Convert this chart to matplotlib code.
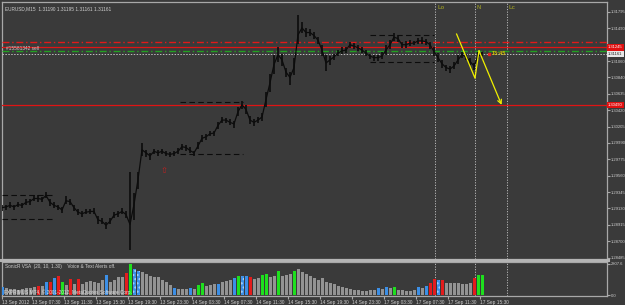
import numpy as np
import matplotlib
matplotlib.use('Agg')
import matplotlib.pyplot as plt
from matplotlib.transforms import blended_transform_factory as btf
from matplotlib.lines import Line2D

plt.rcParams['font.family'] = ['Liberation Sans Narrow', 'Liberation Sans', 'DejaVu Sans']

# ---------------- data ----------------
close = [1.2914, 1.2915, 1.2917, 1.2915, 1.2918, 1.2917, 1.2921, 1.2922, 1.2926, 1.2926,
         1.2925, 1.2930, 1.2921, 1.2917, 1.2915, 1.2911, 1.2923, 1.2922, 1.2914, 1.2908,
         1.2906, 1.2908, 1.2909, 1.2909, 1.2898, 1.2896, 1.2891, 1.2896, 1.2904, 1.2906,
         1.2909, 1.2905, 1.2892, 1.2918, 1.2951, 1.2990, 1.2986, 1.2982, 1.2988, 1.2986,
         1.2988, 1.2985, 1.2984, 1.2985, 1.2988, 1.2994, 1.2993, 1.2989, 1.2986, 1.2995,
         1.3005, 1.3007, 1.3011, 1.3012, 1.3022, 1.3029, 1.3029, 1.3026, 1.3024, 1.3040,
         1.3049, 1.3043, 1.3029, 1.3026, 1.3029, 1.3033, 1.3056, 1.3078, 1.3102, 1.3115,
         1.3108, 1.3092, 1.3085, 1.3098, 1.3141, 1.3150, 1.3144, 1.3144, 1.3140, 1.3134,
         1.3121, 1.3104, 1.3108, 1.3112, 1.3117, 1.3120, 1.3121, 1.3128, 1.3126, 1.3124,
         1.3121, 1.3117, 1.3113, 1.3111, 1.3111, 1.3113, 1.3121, 1.3128, 1.3138, 1.3136,
         1.3128, 1.3128, 1.3130, 1.3130, 1.3133, 1.3133, 1.3132, 1.3128, 1.3119, 1.3111,
         1.3103, 1.3098, 1.3096, 1.3100, 1.3108, 1.3115, 1.3112, 1.3106, 1.3100, 1.3113,
         1.3116]
hi_pips = [4, 3, 4, 3, 4, 3, 4, 3, 5, 4,
           3, 4, 5, 4, 3, 4, 6, 4, 3, 4,
           3, 4, 3, 4, 5, 4, 4, 5, 4, 3,
           4, 5, 69, 15, 10, 9, 4, 4, 3, 4,
           3, 4, 3, 3, 4, 4, 3, 4, 3, 5,
           5, 4, 4, 3, 5, 4, 3, 4, 4, 6,
           5, 6, 5, 4, 4, 5, 10, 12, 12, 10,
           8, 6, 7, 12, 26, 8, 6, 5, 5, 4,
           6, 10, 5, 4, 4, 5, 4, 4, 4, 3,
           4, 4, 3, 4, 4, 5, 6, 6, 5, 4,
           4, 5, 4, 3, 4, 5, 4, 4, 6, 6,
           5, 4, 4, 5, 6, 4, 4, 5, 4, 6,
           3]
lo_pips = [4, 4, 3, 4, 3, 4, 3, 4, 3, 4,
           4, 3, 5, 4, 4, 4, 4, 5, 4, 4,
           4, 3, 4, 3, 5, 4, 5, 4, 3, 4,
           4, 5, 33, 20, 12, 8, 5, 5, 4, 4,
           4, 3, 4, 3, 4, 4, 4, 3, 4, 4,
           5, 4, 3, 4, 5, 4, 4, 4, 5, 6,
           6, 6, 5, 5, 4, 5, 10, 12, 12, 10,
           8, 7, 10, 10, 12, 6, 6, 5, 5, 5,
           8, 10, 6, 4, 4, 4, 4, 4, 4, 4,
           4, 4, 4, 4, 5, 4, 6, 6, 5, 4,
           4, 4, 4, 3, 4, 4, 4, 5, 6, 6,
           6, 5, 5, 4, 5, 4, 4, 4, 5, 4,
           3]
volume = [730, 670, 585, 530, 500, 555, 615, 670, 700, 790,
          790, 1170, 1170, 1550, 1755, 1170, 880, 1460, 1025, 1460,
          1025, 1170, 1230, 1170, 1085, 1315, 1840, 1170, 1375, 1610,
          1665, 1990, 2807, 2340, 2195, 2105, 1900, 1755, 1665, 1610,
          1375, 1170, 880, 670, 585, 530, 585, 670, 585, 880,
          1085, 790, 880, 965, 1025, 1170, 1230, 1375, 1550, 1700,
          1725, 1755, 1665, 1460, 1520, 1840, 1900, 1610, 1755, 2135,
          1755, 1840, 1900, 2135, 2340, 2060, 1885, 1710, 1535, 1360,
          1535, 1225, 1050, 965, 830, 700, 615, 545, 480, 455,
          420, 395, 455, 480, 615, 545, 700, 615, 745, 500,
          455, 420, 395, 455, 745, 615, 810, 1120, 1420, 1330,
          1330, 1120, 1120, 1090, 1050, 1020, 965, 1120, 1510, 1800,
          1770]
vol_class = ("bggggggggr" "gbrbrGgrgr" "ggggggbggg" "grGddggggg" "gggbgggbgG"
             "GgggbgggbG" "dbrggGGggG" "gggGgggggg" "gggggggggg" "ggggbgbgGg"
             "ggggbgbrrd" "rgggggggrG" "G")

time_labels = ["13 Sep 2012", "13 Sep 07:30", "13 Sep 11:30", "13 Sep 15:30",
               "13 Sep 19:30", "13 Sep 23:30", "14 Sep 03:30", "14 Sep 07:30",
               "14 Sep 11:30", "14 Sep 15:30", "14 Sep 19:30", "14 Sep 23:30",
               "17 Sep 03:30", "17 Sep 07:30", "17 Sep 11:30", "17 Sep 15:30"]
tick_bars = [0, 15, 31, 47, 63, 79, 95, 111, 127, 143, 159, 175, 191, 207, 223, 239]

# the 1.31280 label is hidden behind the red order-price box in the reference
price_ticks = [1.28485, 1.28700, 1.28915, 1.29130, 1.29345, 1.29560, 1.29775, 1.29990,
               1.30205, 1.30420, 1.30635, 1.30850, 1.31065, 1.31495, 1.31710]
price_tick_labels = ["1.28485", "1.28700", "1.28915", "1.29130", "1.29345", "1.29560",
                     "1.29775", "1.29990", "1.30205", "1.30420", "1.30635", "1.30840",
                     "1.31060", "1.31490", "1.31795"]

event_bars = [216.5, 236.25, 252.25]
event_names = ["Lo", "N", "Lc"]

boxes = [(0, 26, 1.28996, 1.29311), (89, 120.5, 1.29845, 1.30534), (184, 216, 1.31051, 1.31409)]

level_sl = 1.3131      # red dash-dot
level_open = 1.31245   # red solid
level_tp = 1.3120      # green dash-dot
level_bid = 1.31161    # white dotted
level_low = 1.3049     # red solid lower

zig_t = [227.3, 236.5, 238.5, 249.8]
zig_p = [1.3142, 1.3084, 1.3120, 1.3049]

vol_max_label = 2807.6

# ---------------- figure ----------------
W, H = 625, 305
fig = plt.figure(figsize=(W / 100, H / 100), dpi=100)
bg = '#3a3a3a'
fig.patch.set_facecolor(bg)


def rect(l, t, r, b):
    return [l / W, 1 - b / H, (r - l) / W, (b - t) / H]


ax = fig.add_axes(rect(2, 2, 607, 258.5))
axv = fig.add_axes(rect(2, 261.5, 607, 296))
txtc = '#cfcfcf'
fs = 3.4
fsr = 3.0

for a in (ax, axv):
    a.set_facecolor(bg)
    for s in a.spines.values():
        s.set_color('#a8a8a8')
        s.set_linewidth(0.9)
    a.set_xlim(0, 302.5)

# price bars
t = np.arange(len(close)) * 2
c = np.array(close)
hi = c + np.array(hi_pips) * 1e-4
lo = c - np.array(lo_pips) * 1e-4
ax.vlines(t, lo, hi, color='#0c0c0c', lw=1.2, zorder=4)
ax.plot(t, c, color='#0c0c0c', lw=0.9, zorder=4)

ax.set_ylim(1.28472, 1.31841)

# levels
ax.axhline(level_sl, color='#e01a1a', lw=1.0, ls=(0, (5, 2, 1, 2)), zorder=3)
ax.axhline(level_open, color='#e01414', lw=0.9, zorder=3)
ax.axhline(level_tp, color='#22a022', lw=1.0, ls=(0, (5, 2, 1, 2)), zorder=3)
ax.axhline(level_bid, color='#c0c0c0', lw=0.7, ls=(0, (1.5, 1.5)), zorder=3)
ax.axhline(level_low, color='#e01414', lw=0.9, zorder=3)

# range boxes
for (t0, t1, p0, p1) in boxes:
    ax.hlines([p0, p1], t0, t1, color='#0c0c0c', lw=0.8, ls=(0, (5, 3)), zorder=3)

# event lines
for a in (ax, axv):
    for eb in event_bars:
        a.axvline(eb, color='#b8b8b8', lw=0.7, ls=(0, (1.2, 1.5)), zorder=2)
for eb, nm in zip(event_bars, event_names):
    ax.text(eb + 1.2, 1.3177, nm, color='#8c8c28', fontsize=4.2, va='center', ha='left',
            fontweight='bold')

# zigzag
ax.plot(zig_t[:-1], zig_p[:-1], color='#f0f000', lw=0.9, zorder=5)
ax.annotate('', xy=(zig_t[-1], zig_p[-1]), xytext=(zig_t[-2], zig_p[-2]),
            arrowprops=dict(arrowstyle='->', color='#f0f000', lw=0.9,
                            shrinkA=0, shrinkB=0, mutation_scale=7), zorder=5)

# texts
ax.text(0.005, 0.985, "EURUSD,M15  1.31190 1.31195 1.31161 1.31161", transform=ax.transAxes,
        color=txtc, fontsize=fs, va='top', ha='left')
ax.text(2, 1.31225, "#15581342 sell", color=txtc, fontsize=fs, va='center', ha='left')
ax.plot([243.5], [level_bid], marker='s', ms=2, color='#e02020', zorder=6)
ax.text(245, level_bid, "13:45", color='#d8c000', fontsize=fs + 0.6, va='center', ha='left',
        fontweight='bold')
ax.text(81, 1.2963, "⇧", color='#c02020', fontsize=6, va='center', ha='center',
        family='DejaVu Sans')

# right axis
ax.yaxis.tick_right()
ax.set_yticks(price_ticks)
ax.set_yticklabels(price_tick_labels)
ax.tick_params(axis='y', colors='#a8a8a8', labelcolor=txtc, labelsize=fsr, length=2, pad=1)
ax.tick_params(axis='x', bottom=False, labelbottom=False)
tr = btf(ax.transAxes, ax.transData)
box_kw = dict(boxstyle='square,pad=0.3', ec='none')
ax.text(1.002, level_open, "1.31245", transform=tr, color='white', fontsize=fsr, va='center',
        ha='left', bbox=dict(fc='#e01010', **box_kw), clip_on=False)
ax.text(1.002, level_bid, "1.31161", transform=tr, color='#202020', fontsize=fsr, va='center',
        ha='left', bbox=dict(fc='#e6e6e6', **box_kw), clip_on=False)
ax.text(1.002, level_low, "1.30490", transform=tr, color='white', fontsize=fsr, va='center',
        ha='left', bbox=dict(fc='#e01010', **box_kw), clip_on=False)

# volume panel
cmap = {'g': '#939393', 'r': '#e41c1c', 'b': '#3c8fe6', 'G': '#1ee01e', 'd': '#3c8fe6'}
for ti, v, k in zip(t, volume, vol_class):
    if k == 'd':
        axv.bar(ti, v, width=1.5, color=cmap[k], hatch='....', edgecolor='#a8d4ff', lw=0,
                zorder=3)
    else:
        axv.bar(ti, v, width=1.5, color=cmap[k], lw=0, zorder=3)
axv.set_ylim(-60, 3000)
axv.yaxis.tick_right()
axv.set_yticks([0, vol_max_label])
axv.set_yticklabels(["0.0", "2807.6"])
axv.tick_params(axis='y', colors='#a8a8a8', labelcolor=txtc, labelsize=fsr, length=2, pad=1)
axv.set_xticks(tick_bars)
axv.set_xticklabels(time_labels)
axv.tick_params(axis='x', colors='#a8a8a8', labelcolor=txtc, labelsize=fs, length=2, pad=1.2)
for lbl in axv.get_xticklabels():
    lbl.set_ha('left')
axv.text(0.005, 0.93, "SonicR VSA  (20, 10, 1.30)    Voice & Text Alerts off.",
         transform=axv.transAxes, color=txtc, fontsize=fs, va='top', ha='left', zorder=6)
axv.text(0.003, 0.02, "FXPRIMUS MT4, © 2001-2012, MetaQuotes Software Corp.",
         transform=axv.transAxes, color='#dcdcdc', fontsize=fs, va='bottom', ha='left', zorder=6)

# separator band between panels
fig.add_artist(Line2D([0, 607.5 / W], [1 - 260 / H] * 2, lw=2.2, color='#b4b4b4'))

fig.savefig('out.png', dpi=100, facecolor=bg)
